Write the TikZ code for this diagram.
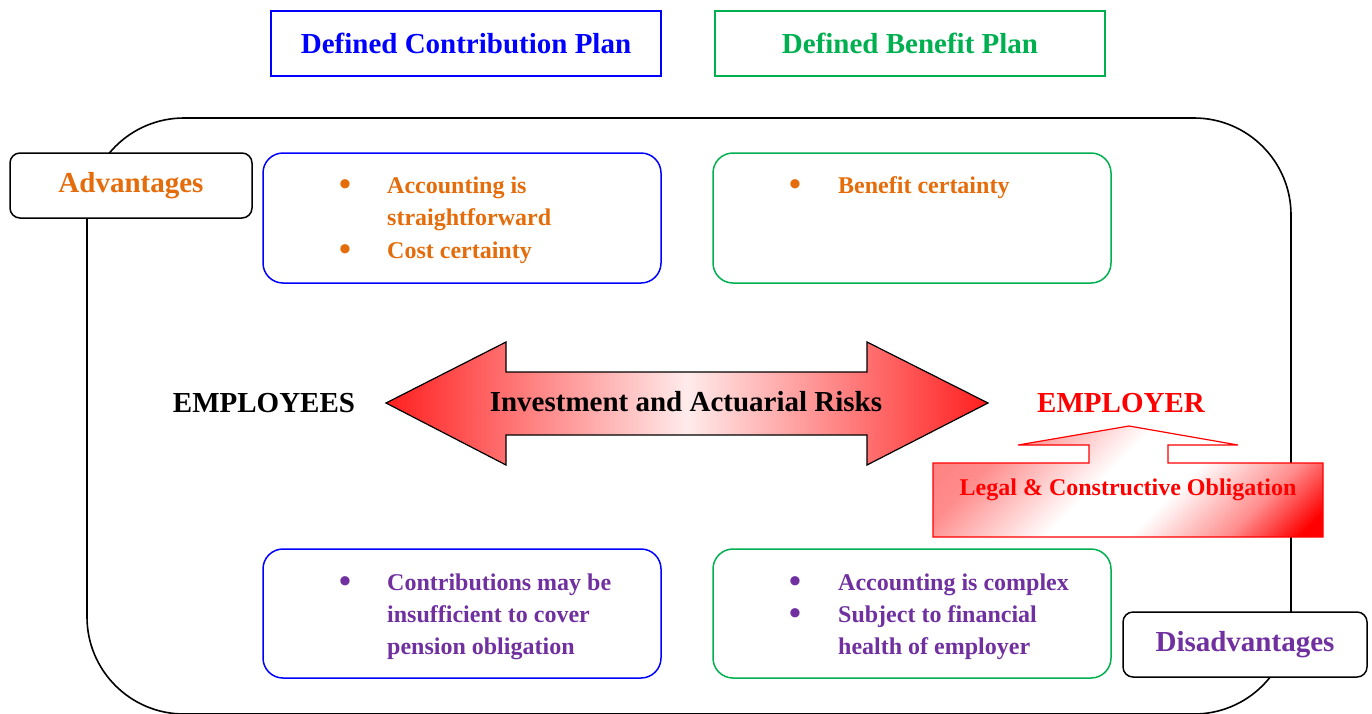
\documentclass[tikz,border=0pt]{standalone}
\usepackage{fontspec}
\setmainfont{Liberation Serif}
\definecolor{dcblue}{RGB}{0,0,255}
\definecolor{dbgreen}{RGB}{0,176,80}
\definecolor{advorange}{RGB}{228,108,10}
\definecolor{dispurple}{RGB}{112,48,160}
\definecolor{oblred}{RGB}{255,0,0}
\pgfdeclarehorizontalshading{riskshade}{100bp}{color(0bp)=(red!88); color(25bp)=(red!88); color(50bp)=(red!8); color(75bp)=(red!88); color(100bp)=(red!88)}
\pgfdeclarehorizontalshading{oblshade}{100bp}{color(0bp)=(red!60); color(28bp)=(red!45); color(46bp)=(white); color(58bp)=(white); color(72bp)=(red!45); color(82bp)=(red); color(100bp)=(red)}
\tikzset{
  bigfont/.style={font=\fontsize{29}{34}\selectfont\bfseries},
  bodyfont/.style={font=\fontsize{24}{29}\selectfont\bfseries},
  titlebox/.style={draw, line width=1.5pt, minimum width=390pt, minimum height=65pt, bigfont},
  planbox/.style={draw, line width=1.5pt, rounded corners=20pt},
  labbox/.style={draw=black, fill=white, line width=1.5pt, rounded corners=10pt, minimum width=242pt, minimum height=65pt, bigfont},
  line/.style={anchor=base west, inner sep=0pt, bodyfont},
  bul/.style={anchor=base, inner sep=0pt, font=\fontsize{34}{34}\selectfont\bfseries},
}
\begin{document}
\begin{tikzpicture}[x=1pt,y=-1pt]
\useasboundingbox (0,0) rectangle (1372,713);
\clip (0,0) rectangle (1372,713);
% outer frame
\draw[line width=1.6pt, rounded corners=97pt] (87,118) rectangle (1291,714);
% titles
\node[titlebox, draw=dcblue, text=dcblue] (dctitle) at (466,43.5) {Defined Contribution Plan};
\node[titlebox, draw=dbgreen, text=dbgreen] (dbtitle) at (910,43.5) {Defined Benefit Plan};
% plan boxes
\draw[planbox, draw=dcblue] (263,153) rectangle (661,283);
\draw[planbox, draw=dbgreen] (713,153) rectangle (1111,283);
\draw[planbox, draw=dcblue] (263,549) rectangle (661,678);
\draw[planbox, draw=dbgreen] (713,549) rectangle (1111,678);
% labels
\node[labbox, text=advorange] (adv) at (131,185.5) {Advantages};
\node[labbox, text=dispurple, minimum width=244pt] (dis) at (1245,644.5) {Disadvantages};
% upper boxes
\begin{scope}[every node/.append style={text=advorange}]
\node[bul] (b1) at (345,195) {•};
\node[line] (t1) at (387,193) {Accounting is};
\node[line] (t2) at (387,225) {straightforward};
\node[bul] (b2) at (345,260) {•};
\node[line] (t3) at (387,258) {Cost certainty};
\node[bul] (b3) at (795,195) {•};
\node[line] (t4) at (838,193) {Benefit certainty};
\end{scope}
% lower boxes
\begin{scope}[every node/.append style={text=dispurple}]
\node[bul] (b4) at (345,592) {•};
\node[line] (t5) at (387,590) {Contributions may be};
\node[line] (t6) at (387,622) {insufficient to cover};
\node[line] (t7) at (387,654) {pension obligation};
\node[bul] (b5) at (795,592) {•};
\node[line] (t8) at (838,590) {Accounting is complex};
\node[bul] (b6) at (795,624) {•};
\node[line] (t9) at (838,622) {Subject to financial};
\node[line] (t10) at (838,654) {health of employer};
\end{scope}
% risk double arrow
\draw[line width=1.2pt, shading=riskshade] (386,403) -- (506,342) -- (506,372) -- (867,372) -- (867,342) -- (988,403) -- (867,465) -- (867,435) -- (506,435) -- (506,465) -- cycle;
\node[bigfont, anchor=base, inner sep=0pt] (risk) at (686,411) {Investment and Actuarial Risks};
\node[bigfont, anchor=base, inner sep=0pt] (emps) at (264,412) {EMPLOYEES};
\node[bigfont, anchor=base, inner sep=0pt, text=oblred] (empr) at (1121,412) {EMPLOYER};
% obligation arrow
\draw[draw=oblred, line width=1.2pt, shading=oblshade, shading angle=-45] (933,537) -- (933,463) -- (1089,463) -- (1089,445) -- (1018,445) -- (1129,426) -- (1238,445) -- (1168,445) -- (1168,463) -- (1323,463) -- (1323,537) -- cycle;
\node[bodyfont, anchor=base, inner sep=0pt, text=oblred] (obl) at (1128,495) {Legal \& Constructive Obligation};
\end{tikzpicture}
\end{document}
